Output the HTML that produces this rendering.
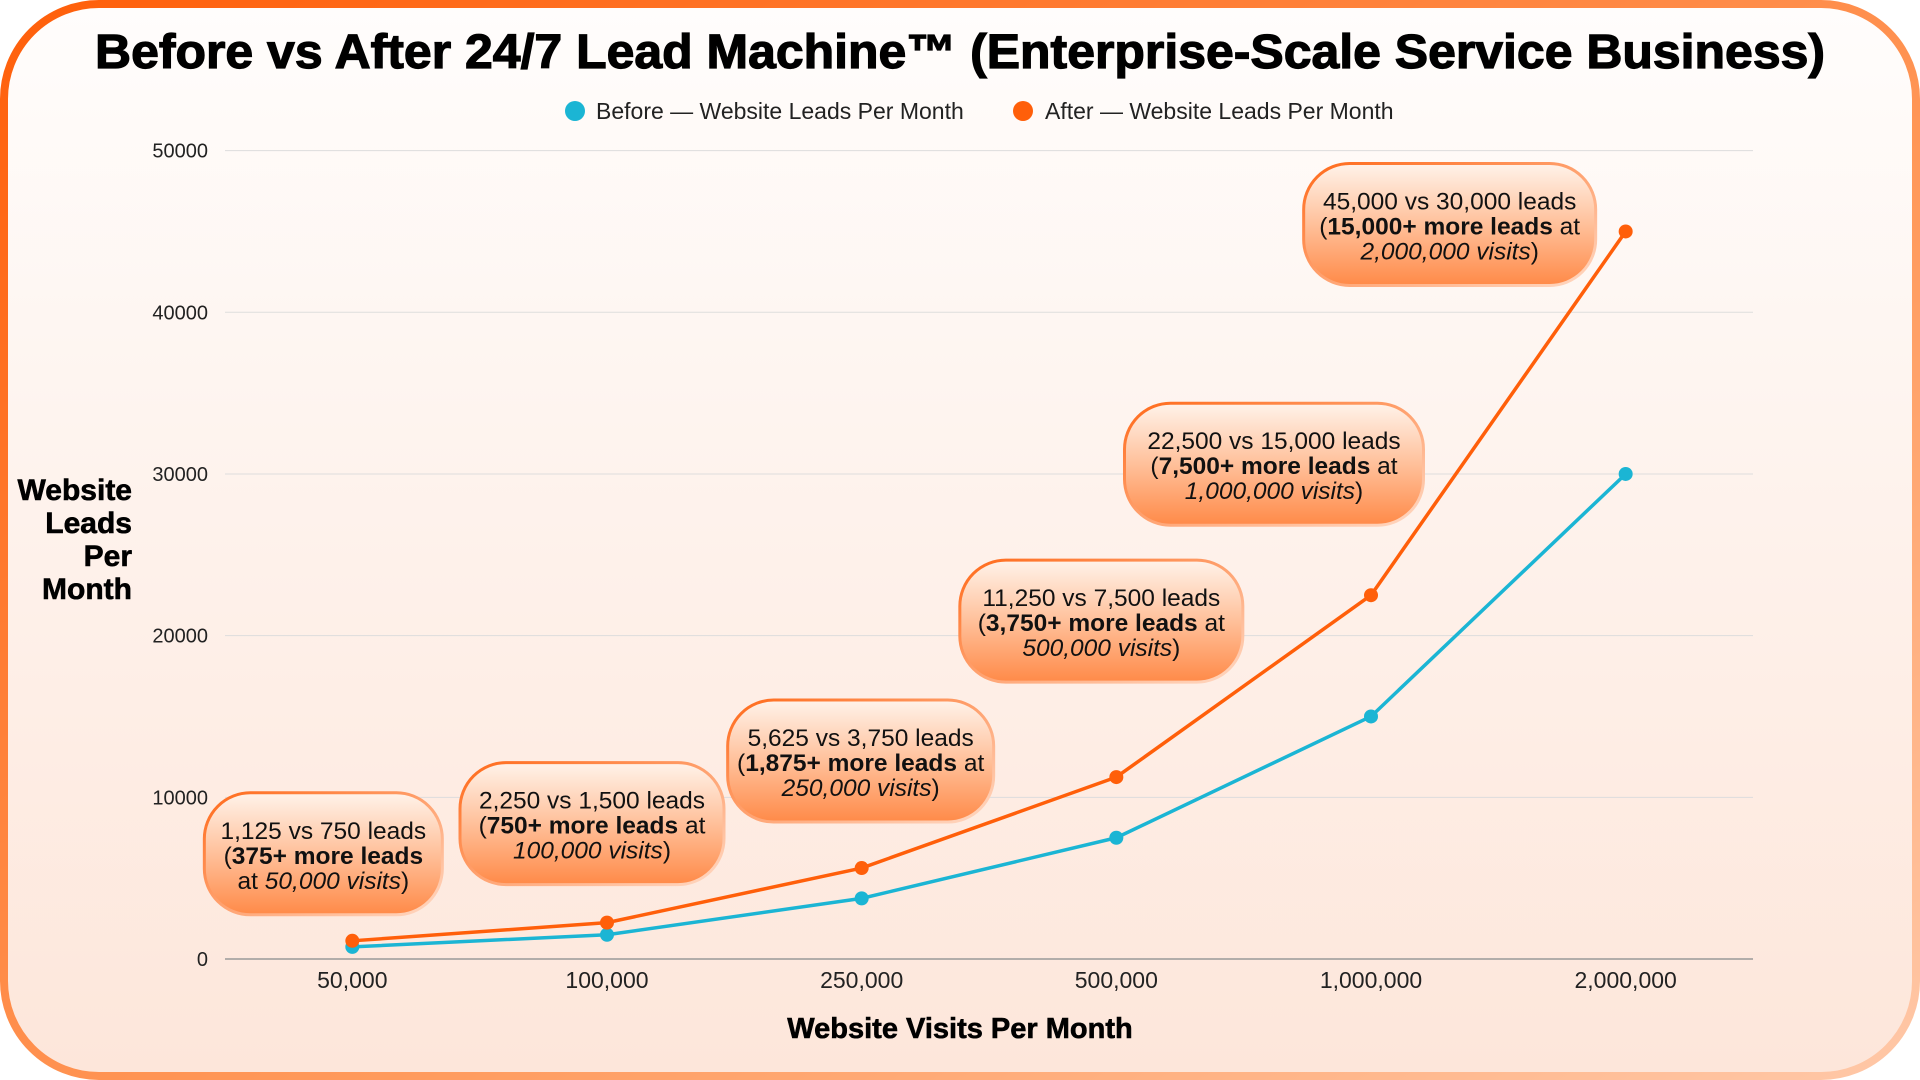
<!DOCTYPE html>
<html><head><meta charset="utf-8"><style>
html,body{margin:0;padding:0;width:1920px;height:1080px;overflow:hidden;background:#fff;}
svg{display:block;font-family:"Liberation Sans",sans-serif;}
</style></head><body>
<svg id="chart" width="1920" height="1080" viewBox="0 0 1920 1080" xmlns="http://www.w3.org/2000/svg">
<defs>
<linearGradient id="bg" x1="0" y1="0" x2="0" y2="1"><stop offset="0" stop-color="#fffdfc"/><stop offset="1" stop-color="#fde6da"/></linearGradient>
<linearGradient id="border" x1="0" y1="0" x2="1" y2="1"><stop offset="0" stop-color="#ff5f0a"/><stop offset="0.6" stop-color="#ff9a5c"/><stop offset="1" stop-color="#ffc8a8"/></linearGradient>
<linearGradient id="callFill" x1="0" y1="0" x2="0" y2="1"><stop offset="0" stop-color="#fff3ea"/><stop offset="0.5" stop-color="#ffc09a"/><stop offset="1" stop-color="#ff8a48"/></linearGradient>
<linearGradient id="callStroke" x1="0" y1="0" x2="1" y2="1"><stop offset="0" stop-color="#ff6a1a"/><stop offset="1" stop-color="#ffd9c4"/></linearGradient>
</defs>
<rect x="4" y="4" width="1912" height="1072" rx="95" fill="url(#bg)" stroke="url(#border)" stroke-width="8"/>
<text x="960" y="68" text-anchor="middle" font-size="48" font-weight="bold" textLength="1730" lengthAdjust="spacingAndGlyphs" fill="#000" stroke="#000" stroke-width="1.2">Before vs After 24/7 Lead Machine™ (Enterprise-Scale Service Business)</text>
<g>
<circle cx="575" cy="111" r="10" fill="#1bb5d4"/>
<text x="596" y="119" font-size="23" fill="#222">Before — Website Leads Per Month</text>
<circle cx="1023" cy="111" r="10" fill="#ff5f0a"/>
<text x="1045" y="119" font-size="23" fill="#222">After — Website Leads Per Month</text>
</g>
<g id="grid"></g><g id="yticks"></g><g id="xticks"></g><g id="lines"></g><g id="callouts"></g>
<g font-size="30" font-weight="bold" text-anchor="end" fill="#000" stroke="#000" stroke-width="0.6">
<text x="132" y="500">Website</text><text x="132" y="533">Leads</text><text x="132" y="566">Per</text><text x="132" y="599">Month</text>
</g>
<text x="960" y="1038" text-anchor="middle" font-size="29" font-weight="bold" fill="#000" stroke="#000" stroke-width="0.6">Website Visits Per Month</text>
</svg>
<script>
const categories = ["50,000","100,000","250,000","500,000","1,000,000","2,000,000"];
const beforeValues = [750,1500,3750,7500,15000,30000];
const afterValues = [1125,2250,5625,11250,22500,45000];
const yTicks = [0,10000,20000,30000,40000,50000];
const calloutLine1 = ["1,125 vs 750 leads","2,250 vs 1,500 leads","5,625 vs 3,750 leads","11,250 vs 7,500 leads","22,500 vs 15,000 leads","45,000 vs 30,000 leads"];
const calloutBold = ["375+ more leads","750+ more leads","1,875+ more leads","3,750+ more leads","7,500+ more leads","15,000+ more leads"];
const calloutVisits = ["50,000 visits","100,000 visits","250,000 visits","500,000 visits","1,000,000 visits","2,000,000 visits"];

const NS="http://www.w3.org/2000/svg";
const L=225,R=1753,T=150.6,B=959,YMAX=50000;
const band=(R-L)/categories.length;
const xs=i=>L+band*(i+0.5);
const ys=v=>B-(v/YMAX)*(B-T);
function mk(tag,attrs,parent){const e=document.createElementNS(NS,tag);for(const k in attrs)e.setAttribute(k,attrs[k]);parent.appendChild(e);return e;}
const grid=document.getElementById('grid'),yt=document.getElementById('yticks'),xt=document.getElementById('xticks'),lines=document.getElementById('lines'),co=document.getElementById('callouts');
yTicks.forEach(v=>{
  const g=mk('line',{x1:L,x2:R,y1:ys(v),y2:ys(v),stroke:v===0?'#999':'#ddd','stroke-width':v===0?1.5:1},grid);
  
  
  const t=mk('text',{x:208,y:ys(v)+7,'text-anchor':'end','font-size':20,fill:'#222'},yt);
  t.textContent=v;
  
  
});
categories.forEach((c,i)=>{
  const t=mk('text',{x:xs(i),y:988,'text-anchor':'middle','font-size':23,fill:'#222'},xt);
  t.textContent=c;
  
  
});
function series(vals,color,name){
  const p=mk('polyline',{points:vals.map((v,i)=>xs(i)+','+ys(v)).join(' '),fill:'none',stroke:color,'stroke-width':3.5,'stroke-linejoin':'round'},lines);
  
  
  vals.forEach((v,i)=>{
    const c=mk('circle',{cx:xs(i),cy:ys(v),r:7,fill:color},lines);
    
    
  });
}
series(beforeValues,'#1bb5d4','before');
series(afterValues,'#ff5f0a','after');
const boxW=[238,264,266,283,299,292];
const boxDx=[-29,-15,-1,-15,-97,-176];
const boxDy=[148,160,168,217,192,68];
afterValues.forEach((v,i)=>{
  const cx=xs(i)+boxDx[i];
  const w=boxW[i],h=122;
  const y=ys(v)-boxDy[i];
  const g=mk('g',{},co);
  
  
  mk('rect',{x:cx-w/2,y:y,width:w,height:h,rx:46,fill:'url(#callFill)',stroke:'url(#callStroke)','stroke-width':3},g);
  const fs=24.5;
  const t1=mk('text',{x:cx,y:y+46,'text-anchor':'middle','font-size':fs,fill:'#111'},g);
  t1.textContent=calloutLine1[i];
  const t2=mk('text',{x:cx,y:y+71,'text-anchor':'middle','font-size':fs,fill:'#111'},g);
  const t3=mk('text',{x:cx,y:y+96,'text-anchor':'middle','font-size':fs,fill:'#111'},g);
  t2.appendChild(document.createTextNode('('));
  const b=mk('tspan',{'font-weight':'bold'},t2);b.textContent=calloutBold[i];
  if(i===0){
    t3.appendChild(document.createTextNode('at '));
  } else {
    t2.appendChild(document.createTextNode(' at'));
  }
  const it=mk('tspan',{'font-style':'italic'},t3);it.textContent=calloutVisits[i];
  t3.appendChild(document.createTextNode(')'));
});
</script>
</body></html>
